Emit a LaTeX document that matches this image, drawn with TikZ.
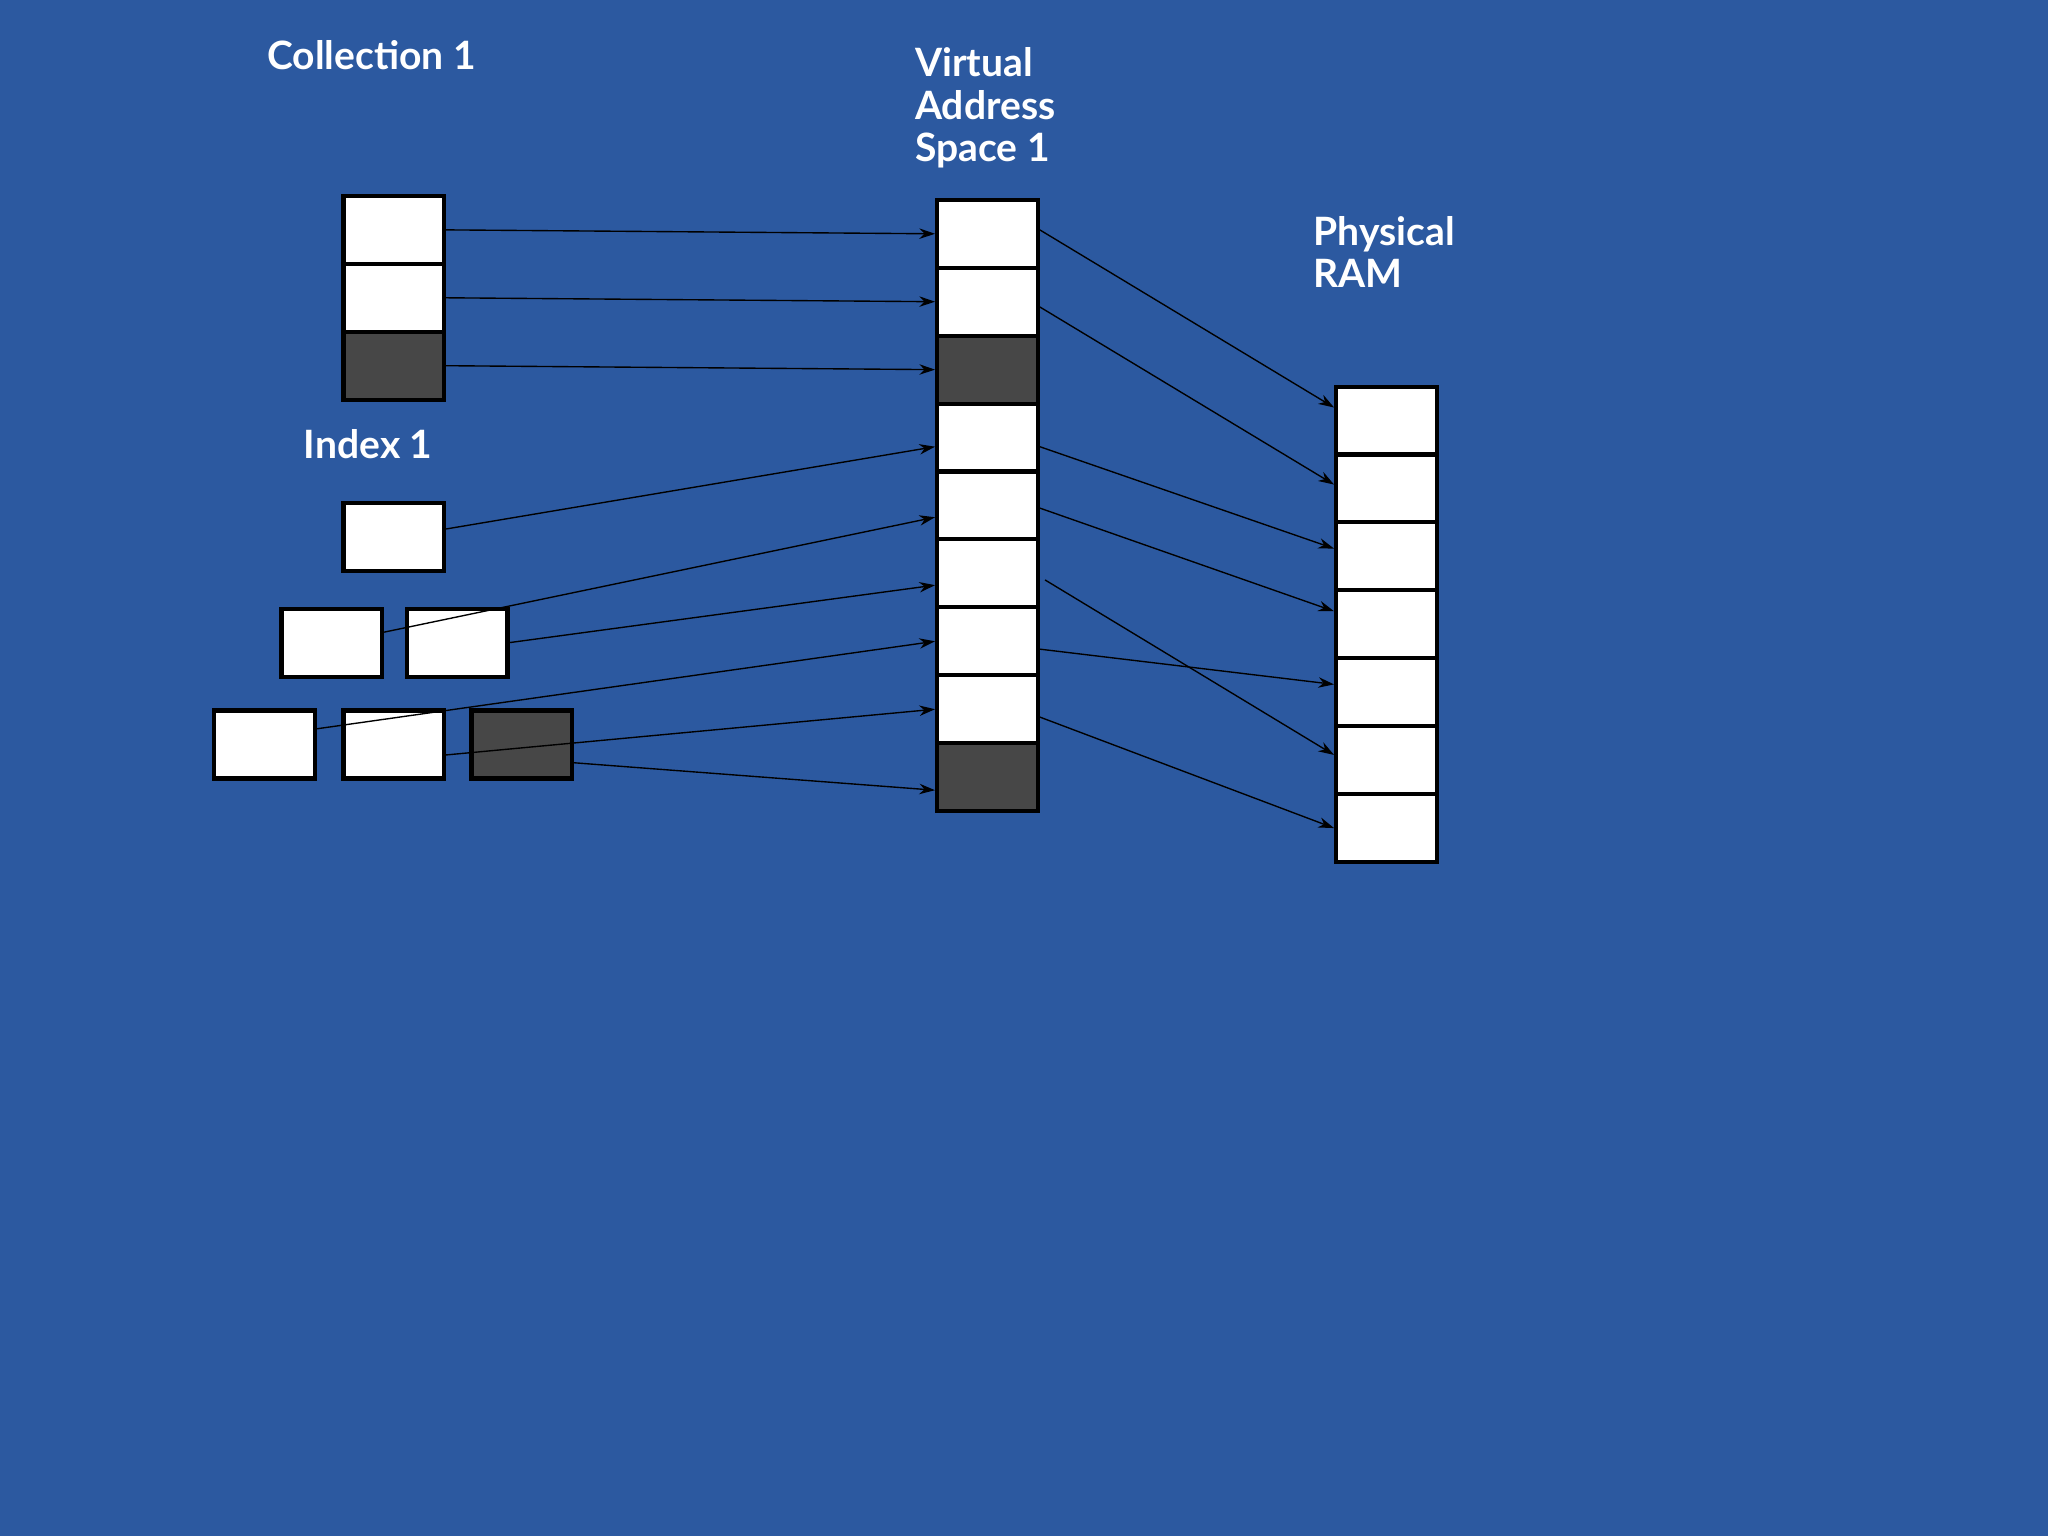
\documentclass[tikz,border=0pt]{standalone}
\usepackage{fontspec}
\setmainfont{Lato}
\usetikzlibrary{arrows.meta}
\definecolor{bg}{HTML}{2C59A0}
\definecolor{dk}{HTML}{474747}
\begin{document}
\begin{tikzpicture}[x=0.01cm,y=-0.01cm,
 cell/.style={draw=black,line width=0.9pt,fill=white,minimum width=0.77cm,minimum height=0.52cm,inner sep=0pt},
 dark/.style={cell,fill=dk},
 lab/.style={text=white,font=\fontsize{8.5}{9.2}\selectfont\bfseries,anchor=north west,align=left,inner sep=0pt},
 ar/.style={line width=0.3pt,-{Stealth[length=1.2mm,width=0.8mm]}}]
\fill[bg] (0,0) rectangle (1568,1176);
\useasboundingbox (0,0) rectangle (1568,1176);
\node[lab] (tc) at (204,30) {Collection 1};
\node[lab] (tv) at (700,36) {Virtual\\Address\\Space 1};
\node[lab] (tp) at (1005,165) {Physical\\RAM};
\node[lab] (ti) at (232,328) {Index 1};
\node[cell] (c1) at (301.5,176) {};
\node[cell] (c2) at (301.5,228) {};
\node[dark] (c3) at (301.5,280) {};
\foreach \i/\y/\s in {1/179/cell,2/231/cell,3/283/dark,4/335/cell,5/387/cell,6/439/cell,7/491/cell,8/543/cell,9/595/dark}
  \node[\s] (v\i) at (756,\y) {};
\foreach \i/\y in {1/322,2/374,3/426,4/478,5/530,6/582,7/634}
  \node[cell] (p\i) at (1061.5,\y) {};
\node[cell] (i1) at (301.5,411) {};
\node[cell] (i2) at (254,492) {};
\node[cell] (i3) at (350,492) {};
\node[cell] (i4) at (202.5,570) {};
\node[cell] (i5) at (301.5,570) {};
\node[dark] (i6) at (399.5,570) {};
\draw[ar] (c1.east) -- (v1.west);
\draw[ar] (c2.east) -- (v2.west);
\draw[ar] (c3.east) -- (v3.west);
\draw[ar] ([yshift=0.06cm]i1.east) -- ([yshift=-0.07cm]v4.west);
\draw[ar] ([yshift=0.08cm]i2.east) -- ([yshift=-0.09cm]v5.west);
\draw[ar] (i3.east) -- ([yshift=-0.09cm]v6.west);
\draw[ar] ([yshift=0.12cm]i4.east) -- (v7.west);
\draw[ar] ([yshift=-0.08cm]i5.east) -- (v8.west);
\draw[ar] ([yshift=-0.14cm]i6.east) -- ([yshift=-0.1cm]v9.west);
\draw[ar] ([yshift=0.03cm]v1.east) -- ([yshift=0.1cm]p1.west);
\draw[ar] ([yshift=-0.04cm]v2.east) -- ([yshift=0.03cm]p2.west);
\draw[ar] ([yshift=-0.07cm]v4.east) -- ([yshift=0.06cm]p3.west);
\draw[ar] ([yshift=-0.02cm]v5.east) -- ([yshift=0.1cm]p4.west);
\draw[ar] ([xshift=0.04cm,yshift=-0.05cm]v6.east) -- ([yshift=0.04cm]p6.west);
\draw[ar] ([yshift=-0.06cm]v7.east) -- ([yshift=0.06cm]p5.west);
\draw[ar] ([yshift=-0.06cm]v8.east) -- (p7.west);
\end{tikzpicture}
\end{document}
